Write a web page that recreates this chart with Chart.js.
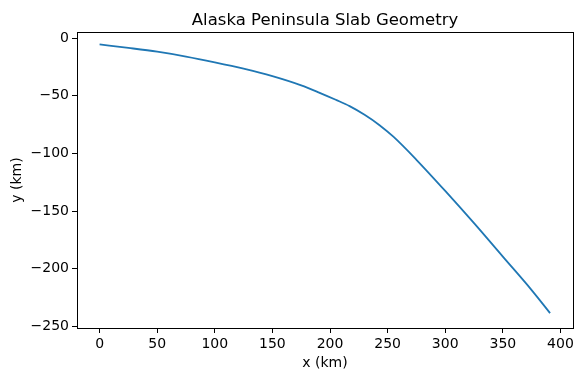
<!DOCTYPE html>
<html>
<head>
<meta charset="utf-8">
<script src="https://cdn.jsdelivr.net/npm/chart.js@4/dist/chart.umd.min.js"></script>
<style>
  html, body { margin: 0; padding: 0; background: #fff; }
  #wrap { width: 583px; height: 381px; }
</style>
</head>
<body>
<div id="wrap"><canvas id="myChart" width="583" height="381"></canvas></div>
<script>
// slab profile
var distX = [0, 25, 50, 75, 100, 125, 150, 175, 190, 205, 217, 230, 243, 255, 275, 300, 325, 350, 375, 391];
var depthY = [-5.5, -8.5, -11.8, -16, -21, -26.5, -33, -41, -47, -53.5, -59, -66.5, -75.5, -85.5, -105.5, -132.5, -160.5, -189.5, -218.5, -238.5];
var xTicks = [0, 50, 100, 150, 200, 250, 300, 350, 400];
var yTicks = [0, -50, -100, -150, -200, -250];
var titulo = 'Alaska Peninsula Slab Geometry';

var puntos = distX.map(function (x, i) { return { x: x, y: depthY[i] }; });

Chart.defaults.font.family = 'DejaVu Sans';
Chart.defaults.color = '#000';

// matplotlib style box round the plot area, title centred over it
var marco = {
  id: 'marco',
  afterDraw: function (chart) {
    var a = chart.chartArea, ctx = chart.ctx;
    ctx.save();
    ctx.strokeStyle = '#000';
    ctx.lineWidth = 1;
    ctx.strokeRect(Math.round(a.left) + 0.5, Math.round(a.top) + 0.5,
      Math.round(a.right - a.left), Math.round(a.bottom - a.top));
    ctx.fillStyle = '#000';
    ctx.font = '16.5px "DejaVu Sans"';
    ctx.textAlign = 'center';
    ctx.textBaseline = 'alphabetic';
    ctx.fillText(titulo, (a.left + a.right) / 2, 25);
    ctx.restore();
  }
};

function fijarTicks(lista) {
  return function (scale) {
    scale.ticks = lista.filter(function (v) { return v >= scale.min && v <= scale.max; })
      .map(function (v) { return { value: v }; });
  };
}

var ctx = document.getElementById('myChart').getContext('2d');
var chart = new Chart(ctx, {
  type: 'line',
  data: {
    datasets: [{
      data: puntos,
      borderColor: '#1f77b4',
      borderWidth: 1.8,
      pointRadius: 0,
      fill: false,
      cubicInterpolationMode: 'monotone'
    }]
  },
  options: {
    responsive: false,
    animation: false,
    layout: { padding: { left: 0, right: 10, top: 32, bottom: 0 } },
    plugins: {
      legend: { display: false },
      tooltip: { enabled: false },
      title: { display: false }
    },
    scales: {
      x: {
        type: 'linear',
        min: -19.6,
        max: 410.9,
        afterBuildTicks: fijarTicks(xTicks),
        afterFit: function (scale) { scale.height = 53; },
        grid: { drawOnChartArea: false, drawTicks: true, tickLength: 5, tickColor: '#000' },
        border: { display: true, color: '#000' },
        ticks: { font: { size: 14 }, padding: 3, maxRotation: 0 },
        title: { display: true, text: 'x (km)', font: { size: 14 }, padding: { top: 0, bottom: 9.6 } }
      },
      y: {
        type: 'linear',
        min: -251.4,
        max: 5.3,
        afterBuildTicks: fijarTicks(yTicks),
        afterFit: function (scale) { scale.width = 77; },
        grid: { drawOnChartArea: false, drawTicks: true, tickLength: 5, tickColor: '#000' },
        border: { display: true, color: '#000' },
        ticks: {
          font: { size: 14 }, padding: 3,
          callback: function (v) { return String(v).replace('-', '\u2212'); }
        },
        title: { display: true, text: 'y (km)', font: { size: 14 }, padding: { top: 8.6, bottom: 0 } }
      }
    }
  },
  plugins: [marco]
});
</script>
</body>
</html>
